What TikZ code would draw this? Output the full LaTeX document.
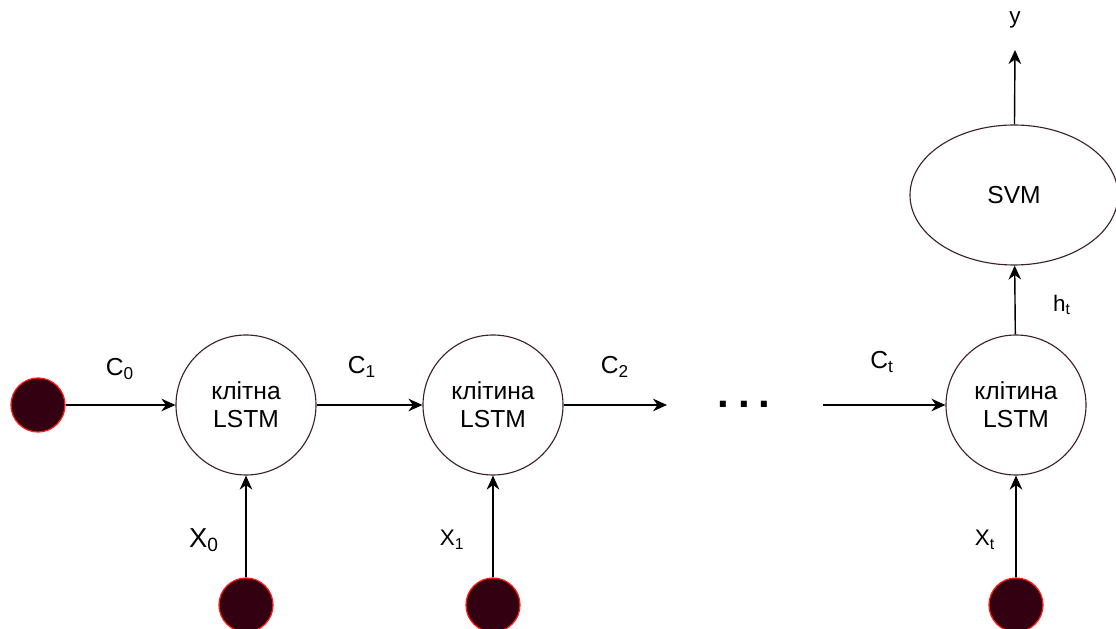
\documentclass[tikz,border=0pt]{standalone}
\usepackage{fontspec}
\setmainfont{Liberation Sans}
\usetikzlibrary{arrows.meta,shapes.geometric}

\definecolor{cellline}{HTML}{3D1F2E}
\definecolor{srcfill}{HTML}{330011}
\definecolor{srcline}{HTML}{FF1A1A}

\tikzset{
cell/.style={circle, draw=cellline, line width=0.8pt, minimum size=3.5cm,
  align=center, font=\fontsize{17.5}{20}\selectfont},
src/.style={circle, fill=srcfill, draw=srcline, line width=0.9pt,
  minimum size=1.35cm, inner sep=0pt},
flow/.style={-{Stealth[length=10pt,width=9pt]}, line width=1pt},
lbl/.style={font=\fontsize{17.5}{20}\selectfont},
xlbl/.style={font=\fontsize{16}{19}\selectfont},
}

\begin{document}
\begin{tikzpicture}
\useasboundingbox (0,0) rectangle (27.9,15.725);

% LSTM cells
\node[cell] (cell0) at (6.15,5.6) {клітна\\LSTM};
\node[cell] (cell1) at (12.325,5.6) {клітина\\LSTM};
\node[cell] (cellt) at (25.4,5.6) {клітина\\LSTM};
\node[ellipse, draw=cellline, line width=0.8pt, minimum width=5.2cm,
  minimum height=3.5cm, font=\fontsize{17.5}{20}\selectfont]
  (svm) at (25.35,10.85) {SVM};

% inputs
\node[src] (c0in) at (0.95,5.6) {};
\node[src] (x0in) at (6.15,0.6) {};
\node[src] (x1in) at (12.325,0.6) {};
\node[src] (xtin) at (25.4,0.6) {};

\coordinate (c2out) at (16.675,5.6);
\coordinate (ctin) at (20.575,5.6);
\coordinate (yout) at (25.375,14.475);

\node[font=\bfseries\fontsize{30}{30}\selectfont] (dots) at (18.6,5.62)
  {.\hspace{6pt}.\hspace{6pt}.};

% connectors
\draw[flow] (c0in) -- (cell0);
\draw[flow] (cell0) -- (cell1);
\draw[flow] (cell1) -- (c2out);
\draw[flow] (ctin) -- (cellt);
\draw[flow] (x0in) -- (cell0);
\draw[flow] (x1in) -- (cell1);
\draw[flow] (xtin) -- (cellt);
\draw[flow] (cellt) -- (svm);
\draw[flow] (svm) -- (yout);

% labels
\node[lbl] (lc0) at (3.0,6.5) {C\textsubscript{0}};
\node[lbl] (lc1) at (9.05,6.55) {C\textsubscript{1}};
\node[lbl] (lc2) at (15.375,6.55) {C\textsubscript{2}};
\node[lbl] (lct) at (22.05,6.67) {C\textsubscript{t}};
\node[font=\fontsize{19.5}{22}\selectfont] (lx0) at (5.1,2.225) {X\textsubscript{0}};
\node[xlbl] (lx1) at (11.3,2.225) {X\textsubscript{1}};
\node[xlbl] (lxt) at (24.625,2.225) {X\textsubscript{t}};
\node[xlbl] (lht) at (26.55,8.1) {h\textsubscript{t}};
\node[xlbl] (ly) at (25.375,15.225) {y};
\end{tikzpicture}
\end{document}
